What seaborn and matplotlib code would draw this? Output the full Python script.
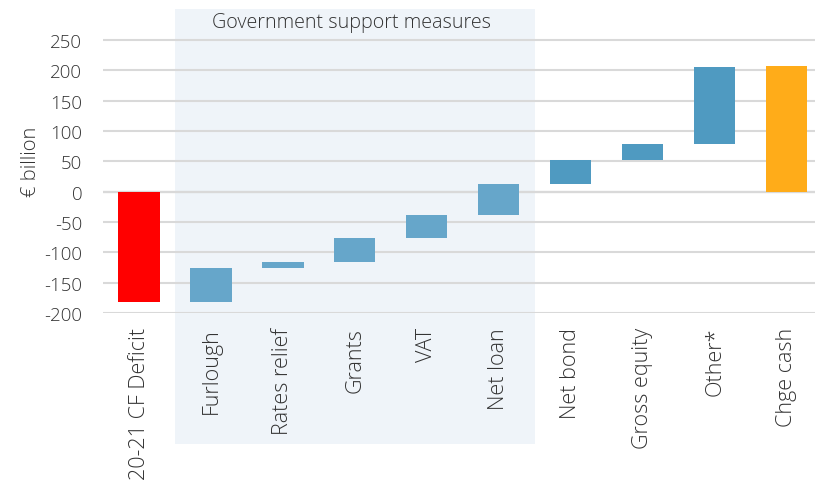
import pandas as pd
import matplotlib.pyplot as plt
import matplotlib.transforms as mtransforms
from matplotlib.patches import Rectangle
import seaborn as sns

# --- Données (€ milliards) ---
categories = ['20-21 CF Deficit', 'Furlough', 'Rates relief', 'Grants', 'VAT',
              'Net loan', 'Net bond', 'Gross equity', 'Other*', 'Chge cash']
changes = [-182, 56, 10, 39, 38, 52, 39, 27, 127, 207]
is_total = [True, False, False, False, False, False, False, False, False, True]
bar_colors = ['#FF0000', '#66A6CA', '#66A6CA', '#66A6CA', '#66A6CA', '#66A6CA',
              '#4F9AC1', '#4F9AC1', '#4F9AC1', '#FFAC19']
y_ticks = [-200, -150, -100, -50, 0, 50, 100, 150, 200, 250]

# cascade: chaque barre part de la fin de la précédente
bottoms, heights = [], []
level = 0
for chg, tot in zip(changes, is_total):
    if tot:
        bottoms.append(0)
        heights.append(chg)
        level = chg
    else:
        bottoms.append(level)
        heights.append(chg)
        level += chg
df = pd.DataFrame({'cat': categories, 'bottom': bottoms, 'height': heights})

sns.set_theme(style="white")
plt.rcParams['font.family'] = ['Open Sans', 'DejaVu Sans']
plt.rcParams['axes.unicode_minus'] = False

fig = plt.figure(figsize=(8.15, 4.81), dpi=100)
ax = fig.add_axes([0.1264, 0.3472, 0.8736, 0.632])

sns.barplot(data=df, x='cat', y='height', bottom=df['bottom'], width=0.57,
            color='#4F9AC1', linewidth=0, saturation=1, ax=ax, zorder=3)
for patch, c in zip(ax.patches, bar_colors):
    patch.set_facecolor(c)

# zone "Government support measures"
trans = mtransforms.blended_transform_factory(ax.transData, ax.transAxes)
ax.add_patch(Rectangle((0.5, -0.431), 5.0, 1.431, transform=trans,
                       facecolor='#EFF4F9', edgecolor='none', zorder=0, clip_on=False))
ax.text(2.95, 0.99, 'Government support measures', transform=trans,
        ha='center', va='top', fontsize=14.2, fontweight='light', color='#333333', zorder=4)

ax.set_xlim(-0.5, 9.39)
ax.set_ylim(-200, 301)
ax.set_yticks(y_ticks)
ax.yaxis.grid(True, color='#D9D9D9', linewidth=1.5, zorder=1)
ax.set_axisbelow(False)
ax.axhline(0, color='#A0A0A0', linewidth=1.5, zorder=2)
for s in ax.spines.values():
    s.set_visible(False)
ax.set_facecolor('none')

ax.set_xlabel('')
ax.set_ylabel('€ billion', fontsize=14.5, fontweight='light', color='#333333', labelpad=2)
ax.tick_params(axis='y', length=0, labelsize=13.5, labelcolor='#333333', pad=15)
ax.tick_params(axis='x', length=0, labelsize=15.5, labelcolor='#333333', pad=10)
plt.setp(ax.get_xticklabels(), rotation=90, ha='center', va='top', fontweight='light')
plt.setp(ax.get_yticklabels(), fontweight='light')

fig.savefig('out.png', dpi=100)
